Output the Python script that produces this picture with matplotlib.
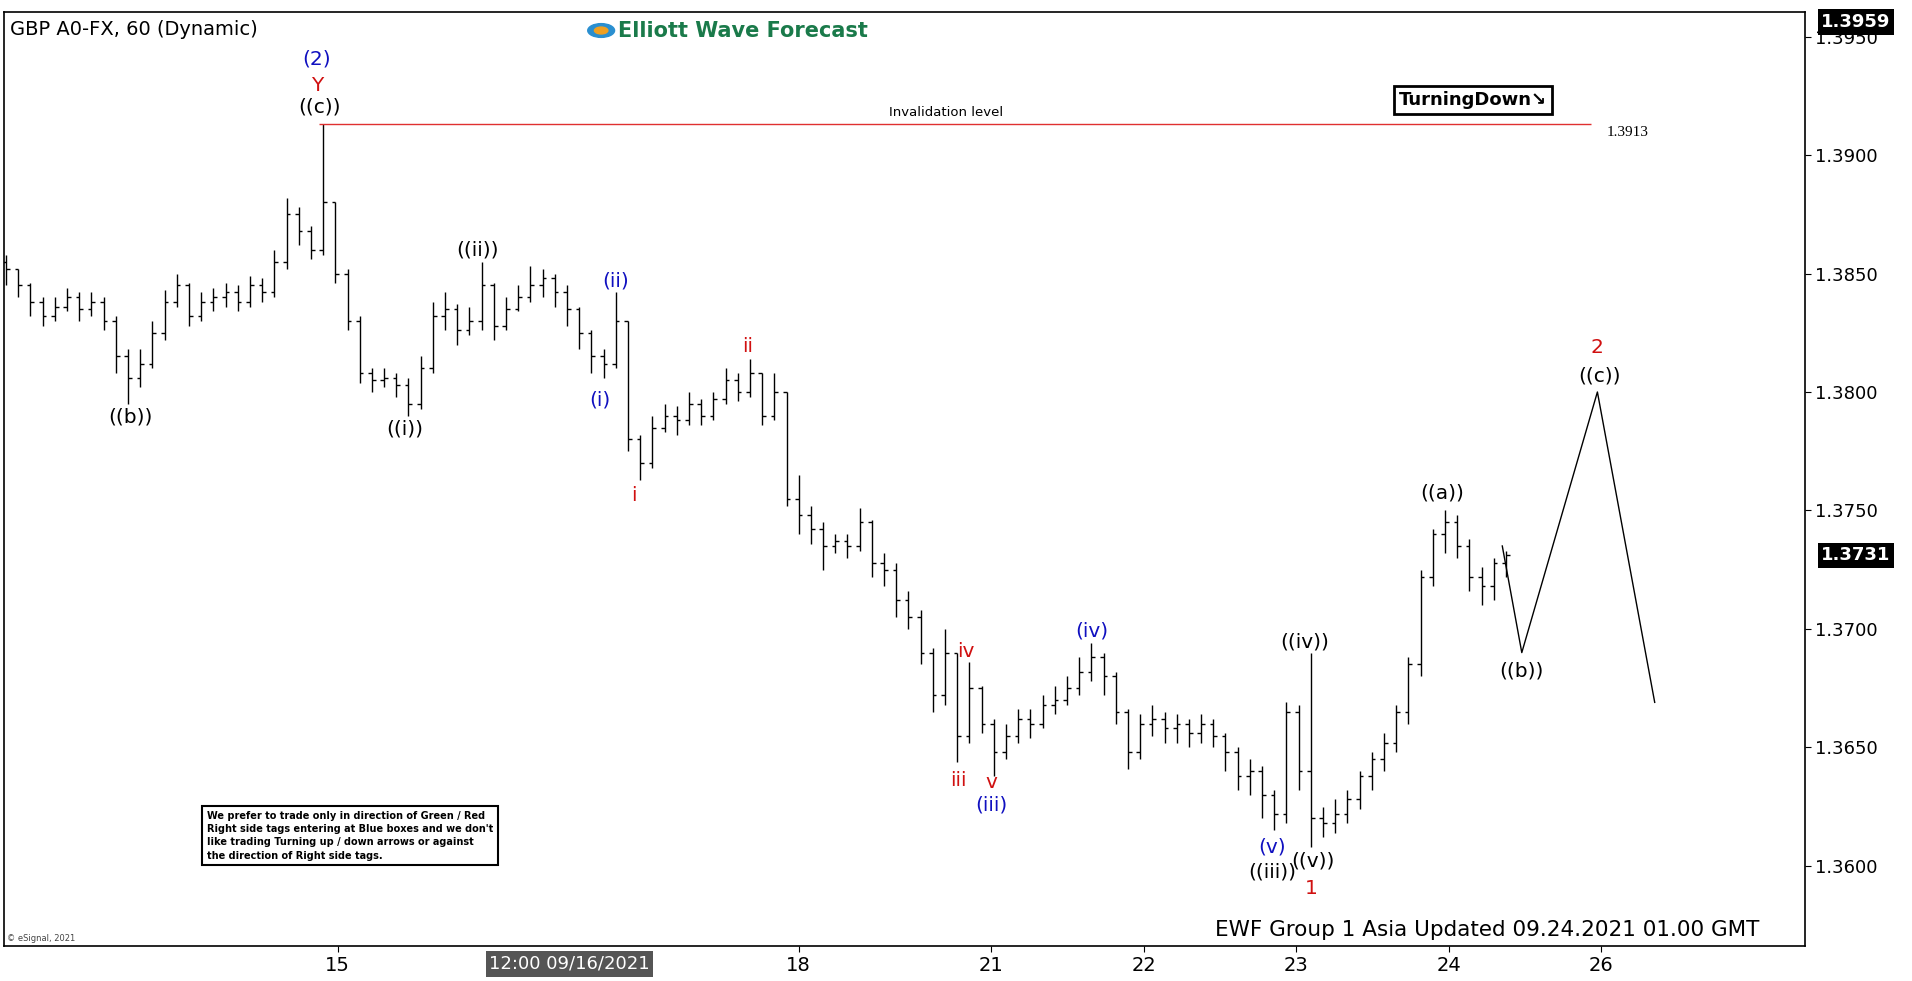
import matplotlib
matplotlib.use("Agg")
import matplotlib.pyplot as plt
import numpy as np
from matplotlib.patches import Circle

# prices as pips above 1.3000
closes = [852,845,838,832,836,840,835,838,830,815,806,812,825,838,845,832,838,840,842,838,
          845,842,855,875,868,860,880,850,830,808,805,806,803,795,810,832,835,826,830,845,
          828,835,840,845,848,842,835,825,815,812,830,780,770,785,790,788,795,790,797,805,
          800,808,790,800,755,748,742,735,737,735,745,728,725,712,705,690,672,690,655,675,
          660,648,655,662,660,668,670,675,682,688,680,665,648,660,662,658,660,656,660,655,
          648,638,640,630,622,665,640,620,618,622,628,638,645,652,665,685,722,740,745,735,
          722,718,728,731]
highs = [858,852,846,840,840,844,842,842,840,832,818,818,830,843,850,846,842,844,846,845,
         849,848,860,882,878,870,913,880,852,832,810,810,808,806,815,838,842,837,836,855,
         846,840,845,853,852,850,845,836,826,818,842,830,782,790,795,794,800,797,800,810,
         808,814,808,808,800,765,752,745,740,740,751,746,732,728,716,708,692,700,690,686,
         676,662,660,666,666,672,676,680,688,694,690,682,666,664,668,665,664,662,664,662,
         656,650,645,642,632,669,668,690,625,628,632,640,648,656,668,688,725,742,750,748,
         738,726,730,733]
lows = [845,840,832,828,830,834,830,832,826,808,795,802,810,822,836,828,830,834,836,834,
        836,838,840,852,862,856,858,846,826,804,800,802,798,790,793,808,826,820,824,826,
        822,826,834,838,840,836,828,818,808,806,810,775,763,768,783,782,786,786,788,795,
        796,798,786,788,752,740,736,725,732,730,733,722,718,705,700,685,665,668,644,652,
        656,638,645,652,654,658,664,668,672,678,672,660,641,645,655,652,652,650,652,650,
        640,632,630,620,615,618,632,608,612,614,618,624,632,640,648,660,680,718,732,730,
        716,710,712,722]
proj_x = [122.7, 124.3, 130.5, 135.2]
proj_y = [1.3735, 1.3690, 1.3800, 1.3669]
yticks = [1.3600,1.3650,1.3700,1.3750,1.3800,1.3850,1.3900,1.3950]
xtick_pos = [27.2, 65.0, 80.8, 93.3, 105.8, 118.3, 130.8]
xtick_lab = ["15", "18", "21", "22", "23", "24", "26"]

W, H = 1568, 804
fig = plt.figure(figsize=(19.12, 9.81), dpi=100)
ax = fig.add_axes([3/W, 1-775/H, (1480-3)/W, (775-10)/H])

c = 1.3 + np.array(closes)/10000
h = 1.3 + np.array(highs)/10000
l = 1.3 + np.array(lows)/10000
o = np.concatenate([[c[0]+0.0003], c[:-1]])
x = np.arange(len(c))
top = np.maximum.reduce([h, o, c]); bot = np.minimum.reduce([l, o, c])
ax.vlines(x, bot, top, color='black', lw=1.0)
ax.hlines(o, x-0.3, x, color='black', lw=1.0)
ax.hlines(c, x, x+0.3, color='black', lw=1.0)
ax.plot(proj_x, proj_y, color='black', lw=1.0)

def p2y(py): return 1.3950 - (py-30)*0.0000515
ax.set_xlim(-0.2, 147.5)
ax.set_ylim(p2y(775), p2y(10))
ax.yaxis.tick_right()
ax.set_yticks(yticks)
ax.set_yticklabels([f"{v:.4f}" for v in yticks], fontsize=13)
ax.set_xticks(xtick_pos)
ax.set_xticklabels(xtick_lab, fontsize=14)
ax.tick_params(length=4)
for s in ax.spines.values(): s.set_linewidth(1.2)

ax.hlines(1.3913, 25.7, 130, color='#e03030', lw=1.0)
def px(X, Y, s, **kw):
    fig.text(X/W, 1-Y/H, s, ha=kw.pop('ha','center'), va=kw.pop('va','center'), **kw)
px(776, 92, "Invalidation level", fontsize=9.5)
px(1335, 109, "1.3913", fontsize=11, family='Liberation Serif')

labels = [("(2)",260,48,'#1010c0'),("Y",260,70,'#d01010'),("((c))",262,88,'black'),
          ("((b))",107,342,'black'),("((i))",332,352,'black'),("((ii))",392,205,'black'),
          ("(ii)",505,230,'#1010c0'),("(i)",492,328,'#1010c0'),("i",520,406,'#d01010'),
          ("ii",613,284,'#d01010'),("iv",792,534,'#d01010'),("iii",786,640,'#d01010'),
          ("v",813,641,'#d01010'),("(iii)",813,660,'#1010c0'),("(iv)",895,517,'#1010c0'),
          ("(v)",1043,694,'#1010c0'),("((iii))",1043,715,'black'),("((v))",1077,706,'black'),
          ("1",1075,728,'#d01010'),("((iv))",1070,526,'black'),("((a))",1183,404,'black'),
          ("((b))",1248,550,'black'),("2",1310,285,'#d01010'),("((c))",1312,308,'black')]
for s, X, Y, col in labels:
    px(X, Y, s, fontsize=14.5, color=col)

px(8, 24, "GBP A0-FX, 60 (Dynamic)", fontsize=14, ha='left')
px(507, 25, "Elliott Wave Forecast", fontsize=15, ha='left', color='#1a7a4a', weight='bold')
fig.patches.append(Circle((493/W, 1-25/H), 11/W, transform=fig.transFigure, color='#2a8fd0'))
fig.patches.append(Circle((493/W, 1-25/H), 5.5/W, transform=fig.transFigure, color='#f0a020'))
px(1208, 82, "TurningDown↘", fontsize=13, weight='bold',
   bbox=dict(boxstyle='square,pad=0.3', fc='white', ec='black', lw=2))
note = ("We prefer to trade only in direction of Green / Red\nRight side tags entering at Blue boxes and we don't\n"
        "like trading Turning up / down arrows or against\nthe direction of Right side tags.")
px(170, 685, note, fontsize=7, ha='left', weight='bold', linespacing=1.4,
   bbox=dict(boxstyle='square,pad=0.5', fc='white', ec='black', lw=1.5))
px(1220, 762, "EWF Group 1 Asia Updated 09.24.2021 01.00 GMT", fontsize=15.5)
px(6, 769, "© eSignal, 2021", fontsize=6, ha='left', color='#444444')
px(467, 790, "12:00 09/16/2021", fontsize=13, color='white',
   bbox=dict(boxstyle='square,pad=0.2', fc='#555555', ec='none'))
px(1522, 18, "1.3959", fontsize=13, color='white', weight='bold',
   bbox=dict(boxstyle='square,pad=0.2', fc='black', ec='none'))
px(1522, 455, "1.3731", fontsize=13, color='white', weight='bold',
   bbox=dict(boxstyle='square,pad=0.2', fc='black', ec='none'))
fig.savefig("out.png", dpi=100)
